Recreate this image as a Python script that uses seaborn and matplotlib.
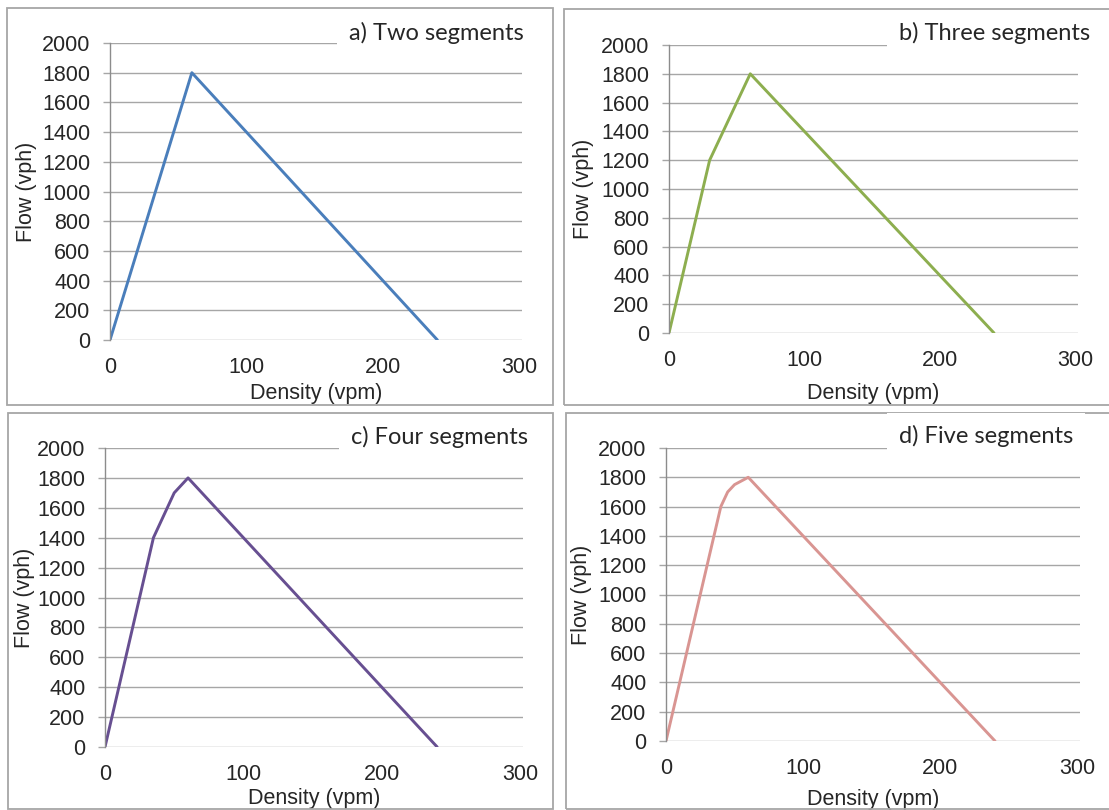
import pandas as pd
import seaborn as sns
import matplotlib.pyplot as plt
from matplotlib.patches import Rectangle

# triangular fundamental diagrams, vertices
density_a = [0, 60, 240]
flow_a = [0, 1800, 0]
density_b = [0, 30, 60, 240]
flow_b = [0, 1200, 1800, 0]
density_c = [0, 35, 50, 60, 240]
flow_c = [0, 1400, 1700, 1800, 0]
density_d = [0, 40, 45, 50, 60, 240]
flow_d = [0, 1600, 1700, 1750, 1800, 0]

titles = ["a) Two segments", "b) Three segments", "c) Four segments", "d) Five segments"]
colors = ["#4A7EBB", "#8DAE4F", "#674F91", "#D99592"]
y_ticks = [0, 200, 400, 600, 800, 1000, 1200, 1400, 1600, 1800, 2000]
x_ticks = [0, 100, 200, 300]

sns.set_style("white")
plt.rcParams['font.family'] = ['Liberation Sans', 'DejaVu Sans']

W, H = 1109, 810
fig = plt.figure(figsize=(W / 100, H / 100), dpi=100)

# pixel boxes: x0, x_end, y_top(2000), y_zero ; label offsets in axes fraction
panels = [
    dict(x=density_a, y=flow_a, box=(110, 522, 43, 340), ylab=-0.178, xlab=-0.145,
         frame=(7, 8, 553, 405), title_xy=(524, 33)),
    dict(x=density_b, y=flow_b, box=(669, 1078, 45, 333), ylab=-0.183, xlab=-0.174,
         frame=(564, 9, 1130, 405), title_xy=(1090, 33)),
    dict(x=density_c, y=flow_c, box=(105, 523, 448, 747), ylab=-0.168, xlab=-0.137,
         frame=(8, 413, 553, 809), title_xy=(528, 437)),
    dict(x=density_d, y=flow_d, box=(666, 1080, 448, 741), ylab=-0.178, xlab=-0.164,
         frame=(566, 413, 1130, 809), title_xy=(1073, 436)),
]

for i, p in enumerate(panels):
    x0, x1, yt, y0 = p["box"]
    ax = fig.add_axes([x0 / W, 1 - y0 / H, (x1 - x0) / W, (y0 - yt) / H])
    df = pd.DataFrame({"Density": p["x"], "Flow": p["y"]})
    sns.lineplot(data=df, x="Density", y="Flow", ax=ax, color=colors[i],
                 linewidth=2.1, sort=False)
    ax.set_xlim(0, 302)
    ax.set_ylim(0, 2000)
    ax.set_xticks(x_ticks)
    ax.set_yticks(y_ticks)
    ax.grid(axis="y", color="#A6A6A6", linewidth=1)
    ax.grid(axis="x", visible=False)
    for s in ["top", "right", "bottom"]:
        ax.spines[s].set_visible(False)
    ax.spines["left"].set_color("#8C8C8C")
    ax.spines["left"].set_linewidth(1)
    ax.tick_params(axis="y", length=5, color="#A6A6A6", width=1, pad=9,
                   labelsize=15.5, left=True)
    ax.tick_params(axis="x", length=0, pad=12, labelsize=15.5)
    ax.set_xlabel("Density (vpm)", fontsize=15.5)
    ax.set_ylabel("Flow (vph)", fontsize=15.5)
    ax.xaxis.set_label_coords(0.5, p["xlab"])
    ax.yaxis.set_label_coords(p["ylab"], 0.5)

    fx0, fy0, fx1, fy1 = p["frame"]
    fig.add_artist(Rectangle((fx0 / W, 1 - fy1 / H), (fx1 - fx0) / W, (fy1 - fy0) / H,
                             transform=fig.transFigure, fill=False,
                             edgecolor="#A6A6A6", linewidth=1.3, zorder=1))
    tx, ty = p["title_xy"]
    fig.text(tx / W, 1 - ty / H, titles[i], ha="right", va="center", fontsize=17,
             family=["Lato", "DejaVu Sans"], zorder=3,
             bbox=dict(boxstyle="square,pad=0.5", facecolor="white", edgecolor="none"))

fig.savefig("out.png", dpi=100)
